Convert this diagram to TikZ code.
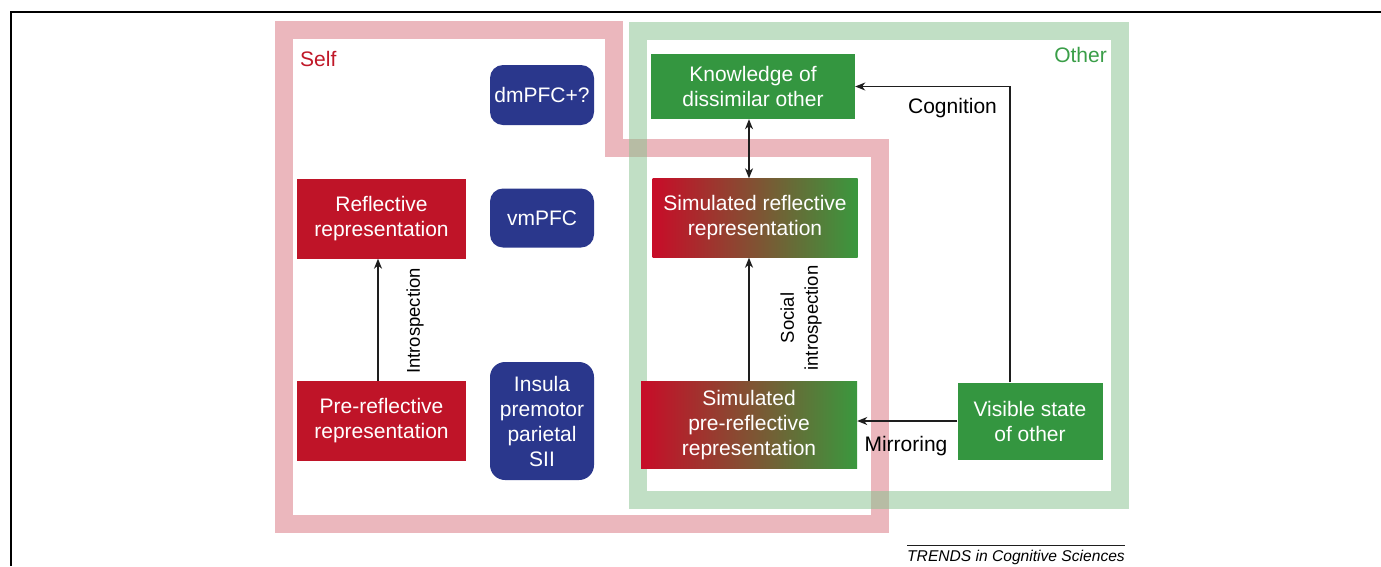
\documentclass[tikz,border=0pt]{standalone}
\usepackage{fontspec}
\setmainfont{Liberation Sans}
\usetikzlibrary{arrows.meta}
\definecolor{selfband}{RGB}{235,183,189}
\definecolor{otherband}{RGB}{133,193,141}
\definecolor{boxred}{RGB}{191,20,40}
\definecolor{boxgreen}{RGB}{52,150,64}
\definecolor{boxblue}{RGB}{42,55,140}
\definecolor{gradred}{RGB}{200,12,40}
\definecolor{gradgreen}{RGB}{58,152,62}
\definecolor{selftext}{RGB}{192,24,40}
\definecolor{othertext}{RGB}{58,158,72}
\definecolor{linegray}{RGB}{30,30,30}
\begin{document}
\begin{tikzpicture}[x=1pt,y=-1pt,
  txt/.style={font=\fontsize{21}{25}\selectfont},
  box/.style={txt, text=white, align=center, inner sep=0pt},
  redbox/.style={box, fill=boxred},
  greenbox/.style={box, fill=boxgreen},
  bluebox/.style={box, fill=boxblue, rounded corners=13pt, minimum width=104pt},
  gradbox/.style={box, left color=gradred, right color=gradgreen},
  arr/.style={draw=linegray, line width=1.2pt, -{Stealth[length=10pt,width=8pt,inset=3pt]}},
  darr/.style={draw=linegray, line width=1.2pt, {Stealth[length=10pt,width=8pt,inset=3pt]}-{Stealth[length=10pt,width=8pt,inset=3pt]}},
  lab/.style={txt, text=black, inner sep=0pt},
  rlab/.style={font=\fontsize{18.5}{24}\selectfont, text=black, inner sep=0pt, rotate=90, align=center}]
\useasboundingbox (0,0) rectangle (1381,566);
\fill[white] (0,0) rectangle (1381,566);
% frame
\draw[line width=1.5pt] (11,566) -- (11,12) -- (1381,12);
% regions
\draw[selfband, line width=18pt, line join=miter]
  (284,30) -- (613.5,30) -- (613.5,147.5) -- (879.5,147.5) -- (879.5,524) -- (284,524) -- cycle;
\draw[otherband, line width=18pt, opacity=0.5, line join=miter] (638,30.5) rectangle (1120,500);
\node[txt, text=selftext, anchor=base west, inner sep=0pt] (self) at (300,66.5) {Self};
\node[txt, text=othertext, anchor=base east, inner sep=0pt] (other) at (1107,62.5) {Other};
% self nodes
\node[redbox, minimum width=169pt, minimum height=80pt] (refl) at (381.5,218.5) {Reflective\\representation};
\node[redbox, minimum width=169pt, minimum height=80pt] (pre) at (381.5,421) {Pre-reflective\\representation};
% brain areas
\node[bluebox, minimum height=60pt] (dm) at (542,95) {dmPFC+?};
\node[bluebox, minimum height=59pt] (vm) at (542,218) {vmPFC};
\node[bluebox, minimum height=118pt, rounded corners=15pt] (ins) at (542,421) {Insula\\premotor\\parietal\\SII};
% other nodes
\node[greenbox, minimum width=204pt, minimum height=65pt] (know) at (753,86.5) {Knowledge of\\dissimilar other};
\node[gradbox, minimum width=205pt, minimum height=79pt] (simrefl) at (755,218) {Simulated reflective\\representation};
\node[gradbox, minimum width=216pt, minimum height=87pt] (simpre) at (749,425) {Simulated\\pre-reflective\\representation};
\node[greenbox, minimum width=145pt, minimum height=77pt] (vis) at (1030,421) {Visible state\\of other};
% connectors
\draw[arr] ([xshift=-3.5pt]pre.north) -- ([xshift=-3.5pt]refl.south);
\node[rlab] (lintro) at (415,321) {Introspection};
\draw[arr] (simpre.north) -- (simpre.north |- simrefl.south);
\node[rlab] (lsoc) at (801,318) {Social\\introspection};
\draw[darr] (know.south -| simpre.north) -- (simrefl.north -| simpre.north);
\draw[arr] (vis.west) -- (simpre.east |- vis.west);
\node[lab, anchor=base] (lmir) at (906,451.5) {Mirroring};
\draw[arr] ([xshift=-20pt]vis.north) |- (know.east);
\node[lab, anchor=base] (lcog) at (952.5,113) {Cognition};
% footer
\node[anchor=base west, inner sep=0pt, font=\fontsize{15.6}{18}\selectfont\itshape] (trend) at (907,561) {TRENDS in Cognitive Sciences};
\draw[line width=0.8pt, draw=linegray] ([yshift=4.5pt]trend.north west) -- ([yshift=4.5pt]trend.north east);
\end{tikzpicture}
\end{document}
